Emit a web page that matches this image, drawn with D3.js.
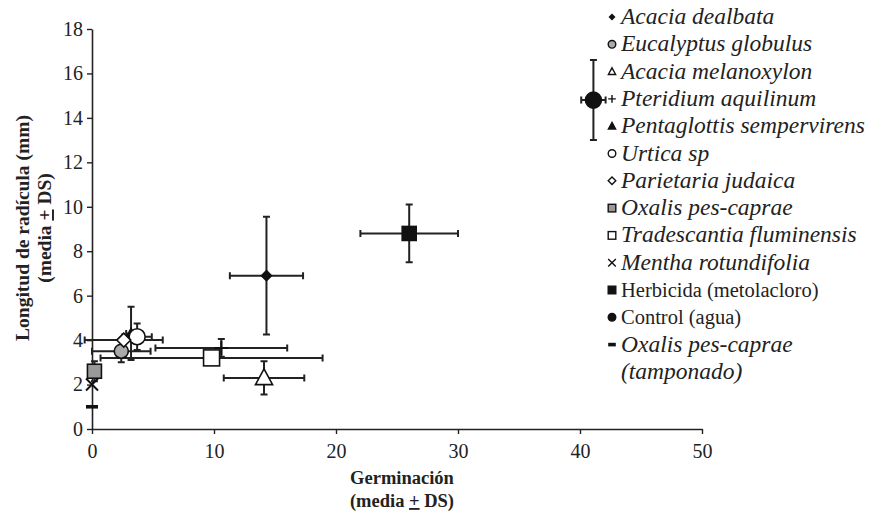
<!DOCTYPE html>
<html>
<head>
<meta charset="utf-8">
<script src="https://cdn.jsdelivr.net/npm/d3@7"></script>
<style>
  body { margin: 0; background: #fff; }
  svg text { font-family: "Liberation Serif", "Times New Roman", serif; }
</style>
</head>
<body>
<svg id="svg" width="877" height="517"></svg>
<script>
    // -- data
    var species = ["Acacia dealbata", "Eucalyptus globulus", "Acacia melanoxylon", "Pteridium aquilinum",
                   "Pentaglottis sempervirens", "Urtica sp", "Parietaria judaica", "Oxalis pes-caprae",
                   "Tradescantia fluminensis", "Mentha rotundifolia", "Herbicida (metolacloro)", "Control (agua)",
                   "Oxalis pes-caprae"];
    var italicName = [true, true, true, true, true, true, true, true, true, true, false, false, true];
    var germ    = [14.3, 2.4, 14.1, 10.6, 3.2, 3.7, 2.6, 0.2, 9.8, 0.0, 26.0, 41.1, 0.0];
    var germSD  = [3.0, 2.4, 3.3, 5.4, 0.4, 1.2, 3.2, 0.3, 9.1, 0, 4.0, 1.0, 0];
    var radic   = [6.9, 3.5, 2.3, 3.65, 4.3, 4.15, 4.0, 2.6, 3.2, 2.0, 8.8, 14.8, 1.0];
    var radicSD = [2.65, 0.5, 0.75, 0.4, 1.2, 0.6, 0, 0.45, 0, 0, 1.3, 1.8, 0];
    var shapes  = ["smalldiamond", "circle", "triangle", "plus", "triangle", "circle", "diamond", "square",
                   "square", "cross", "square", "circle", "dash"];
    var fills   = ["#111", "#aaa", "#fff", "none", "#111", "#fff", "#fff", "#999", "#fff", "none", "#111", "#111", "#111"];
    var sizes   = [5, 7, 9, 7, 5, 8, 7, 7, 8, 6, 7, 8, 6];
    var xTicks = [0, 10, 20, 30, 40, 50];
    var yTicks = [0, 2, 4, 6, 8, 10, 12, 14, 16, 18];

    var svg = d3.select("svg#svg");
    var x = d3.scaleLinear().domain([0, 50]).range([92, 702]);
    var y = d3.scaleLinear().domain([0, 18]).range([429, 29]);

    // -- axes
    var xAxis = svg.append("g").attr("transform", "translate(0,429)")
        .call(d3.axisBottom(x).tickValues(xTicks).tickSize(5).tickSizeOuter(0));
    var yAxis = svg.append("g").attr("transform", "translate(92,0)")
        .call(d3.axisLeft(y).tickValues(yTicks).tickSize(5).tickSizeOuter(0));
    [xAxis, yAxis].forEach(function(a) {
        a.select(".domain").attr("stroke", "#222").attr("stroke-width", 1.6);
        a.selectAll(".tick line").attr("stroke", "#222").attr("stroke-width", 1.4);
        a.selectAll(".tick text").attr("fill", "#222").style("font-size", "20px")
            .style("font-family", "Liberation Serif");
    });
    xAxis.selectAll(".tick text").attr("dy", "1.05em");
    yAxis.selectAll(".tick text").attr("dx", "-0.05em");

    // -- axis titles
    var xt = svg.append("text").attr("text-anchor", "middle").style("font-weight", "bold")
        .style("font-size", "18.5px").attr("fill", "#222");
    xt.append("tspan").attr("x", 402).attr("y", 484).text("Germinación");
    var xt2 = xt.append("tspan").attr("x", 402).attr("y", 507);
    xt2.append("tspan").text("(media ");
    xt2.append("tspan").style("text-decoration", "underline").text("+");
    xt2.append("tspan").text(" DS)");

    var yt = svg.append("text").attr("text-anchor", "middle").style("font-weight", "bold")
        .style("font-size", "19.5px").attr("fill", "#222")
        .attr("transform", "translate(0,228) rotate(-90)");
    yt.append("tspan").attr("x", 0).attr("y", 29).text("Longitud de radícula (mm)");
    var yt2 = yt.append("tspan").attr("x", 0).attr("y", 51);
    yt2.append("tspan").text("(media ");
    yt2.append("tspan").style("text-decoration", "underline").text("+");
    yt2.append("tspan").text(" DS)");

    // -- marker drawing
    function drawMarker(g, shape, s, fill) {
        var stroke = "#111";
        switch (shape) {
            case "circle":
                g.append("circle").attr("r", s).attr("fill", fill).attr("stroke", stroke).attr("stroke-width", 1.6);
                break;
            case "square":
                g.append("rect").attr("x", -s).attr("y", -s).attr("width", 2 * s).attr("height", 2 * s)
                    .attr("fill", fill).attr("stroke", stroke).attr("stroke-width", 1.6);
                break;
            case "triangle":
                g.append("path").attr("d", "M0," + (-s) + "L" + (s * 0.95) + "," + (s * 0.75) + "L" + (-s * 0.95) + "," + (s * 0.75) + "Z")
                    .attr("fill", fill).attr("stroke", stroke).attr("stroke-width", 1.6);
                break;
            case "diamond":
            case "smalldiamond":
                g.append("path").attr("d", "M0," + (-s) + "L" + s + ",0L0," + s + "L" + (-s) + ",0Z")
                    .attr("fill", fill).attr("stroke", stroke).attr("stroke-width", 1.6);
                break;
            case "plus":
                g.append("path").attr("d", "M" + (-s) + ",0H" + s + "M0," + (-s) + "V" + s)
                    .attr("stroke", stroke).attr("stroke-width", 2);
                break;
            case "cross":
                g.append("path").attr("d", "M" + (-s) + "," + (-s) + "L" + s + "," + s + "M" + s + "," + (-s) + "L" + (-s) + "," + s)
                    .attr("stroke", stroke).attr("stroke-width", 2);
                break;
            case "dash":
                g.append("rect").attr("x", -s).attr("y", -1.8).attr("width", 2 * s).attr("height", 3.6)
                    .attr("fill", fill);
                break;
        }
    }

    // -- error bars
    var cap = 3.5;
    var errs = svg.append("g").attr("stroke", "#222").attr("stroke-width", 2).attr("fill", "none");
    species.forEach(function(d, i) {
        var cx = x(germ[i]), cy = y(radic[i]);
        if (germSD[i] > 0) {
            var x1 = x(germ[i] - germSD[i]), x2 = x(germ[i] + germSD[i]);
            errs.append("path").attr("d", "M" + x1 + "," + cy + "H" + x2 +
                "M" + x1 + "," + (cy - cap) + "V" + (cy + cap) + "M" + x2 + "," + (cy - cap) + "V" + (cy + cap));
        }
        if (radicSD[i] > 0) {
            var y1 = y(radic[i] - radicSD[i]), y2 = y(radic[i] + radicSD[i]);
            errs.append("path").attr("d", "M" + cx + "," + y1 + "V" + y2 +
                "M" + (cx - cap) + "," + y1 + "H" + (cx + cap) + "M" + (cx - cap) + "," + y2 + "H" + (cx + cap));
        }
    });

    // -- markers
    var pts = svg.append("g");
    species.forEach(function(d, i) {
        var g = pts.append("g").attr("transform", "translate(" + x(germ[i]) + "," + y(radic[i]) + ")");
        drawMarker(g, shapes[i], sizes[i], fills[i]);
    });

    // -- legend
    var legend = svg.append("g");
    var rowH = 27.3;
    species.forEach(function(d, i) {
        var ly = 17 + i * rowH;
        var g = legend.append("g").attr("transform", "translate(612," + ly + ")");
        var s = shapes[i] == "smalldiamond" ? 2.5 : 3.8;
        drawMarker(g, shapes[i], s, fills[i]);
        g.selectAll("*").attr("stroke-width", 1.4);
        legend.append("text").attr("x", 621).attr("y", ly + 7)
            .style("font-size", italicName[i] ? "23.5px" : "20.5px")
            .style("font-style", italicName[i] ? "italic" : "normal")
            .attr("fill", "#222").text(d);
    });
    legend.append("text").attr("x", 621).attr("y", 17 + 13 * rowH + 7)
        .style("font-size", "23.5px").style("font-style", "italic").attr("fill", "#222").text("(tamponado)");
</script>
</body>
</html>
